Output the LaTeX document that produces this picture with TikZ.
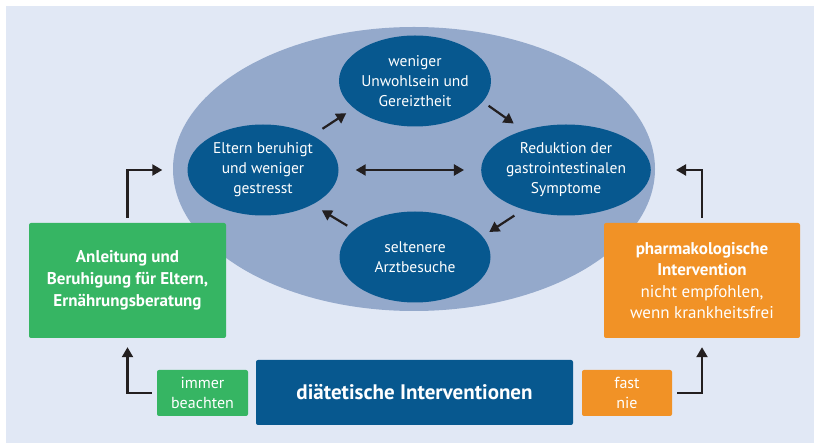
\documentclass[tikz,border=0pt]{standalone}
\usepackage{fontspec}
\setmainfont{PT Sans}
\usepackage{tikz}
\usetikzlibrary{shapes.geometric,arrows.meta}
\definecolor{bgblue}{HTML}{E1E8F5}
\definecolor{ovalblue}{HTML}{94A9CB}
\definecolor{darkblue}{HTML}{07588F}
\definecolor{boxgreen}{HTML}{36B563}
\definecolor{boxorange}{HTML}{F19226}
\definecolor{arrowblack}{HTML}{231F20}
\tikzstyle{arrow} = [line width=2.2pt,-{Triangle[length=10pt,width=11pt]},draw=arrowblack]

\begin{document}
\begin{tikzpicture}
[x=1pt,y=-1pt,
oval/.style={ellipse,fill=darkblue,minimum width=151pt,minimum height=91pt,inner sep=0pt,text=white,align=center,font=\fontsize{15.5}{20}\selectfont},
greenbox/.style={rectangle,rounded corners=2pt,fill=boxgreen,text=white,align=center,inner sep=0pt},
orangebox/.style={rectangle,rounded corners=2pt,fill=boxorange,text=white,align=center,inner sep=0pt},
bluebox/.style={rectangle,rounded corners=2pt,fill=darkblue,text=white,align=center,inner sep=0pt},]
\useasboundingbox (0,0) rectangle (814,443);
\fill[bgblue] (6,6) rectangle (814,443);
\node[ellipse,fill=ovalblue,minimum width=482pt,minimum height=284pt] (cycle) at (414,169) {};

% the four states
\node[oval] (wenig) at (415,81) {weniger\\Unwohlsein und\\Gereiztheit};
\node[oval] (eltern) at (263,170) {Eltern beruhigt\\und weniger\\gestresst};
\node[oval] (reduk) at (566,170) {Reduktion der\\gastrointestinalen\\Symptome};
\node[oval] (arzt) at (415,257) {seltenere\\Arztbesuche};

\draw[arrow,shorten <=12pt,shorten >=9pt] (eltern.35) -- (wenig.204);
\draw[arrow,shorten <=7pt,shorten >=12pt] (wenig.-17) -- (reduk.137);
\draw[arrow,shorten <=11pt,shorten >=8pt] (reduk.223) -- (arzt.17);
\draw[arrow,shorten <=8pt,shorten >=11pt] (arzt.156) -- (eltern.-35);
\draw[arrow,{Triangle[length=10pt,width=11pt]}-{Triangle[length=10pt,width=11pt]},shorten <=17pt,shorten >=17pt] (eltern) -- (reduk);

% boxes
\node[greenbox,minimum width=197pt,minimum height=115pt,font=\bfseries\fontsize{17}{22}\selectfont] (anleit) at (127.5,280.5) {Anleitung und\\Beruhigung für Eltern,\\Ernährungsberatung};
\node[orangebox,minimum width=196pt,minimum height=115pt,font=\fontsize{17}{21.5}\selectfont] (pharma) at (702,280.5) {\textbf{pharmakologische}\\\textbf{Intervention}\\nicht empfohlen,\\wenn krankheitsfrei};
\node[bluebox,minimum width=317pt,minimum height=65pt,font=\bfseries\fontsize{21}{24}\selectfont] (diaet) at (414.5,392.5) {diätetische Interventionen};
\node[greenbox,minimum width=91pt,minimum height=46pt,font=\fontsize{16}{20}\selectfont] (immer) at (202.5,393) {immer\\beachten};
\node[orangebox,minimum width=90pt,minimum height=46pt,font=\fontsize{16}{20}\selectfont] (fast) at (627,393) {fast\\nie};

% elbows
\draw[arrow,shorten <=5pt,shorten >=25pt] (anleit.north) |- (eltern.west);
\draw[arrow,shorten <=5pt,shorten >=25pt] (pharma.north) |- (reduk.east);
\draw[arrow,shorten <=5pt,shorten >=9pt] (immer.west) -| (anleit.south);
\draw[arrow,shorten <=5pt,shorten >=9pt] (fast.east) -| (pharma.south);
\end{tikzpicture}
\end{document}
